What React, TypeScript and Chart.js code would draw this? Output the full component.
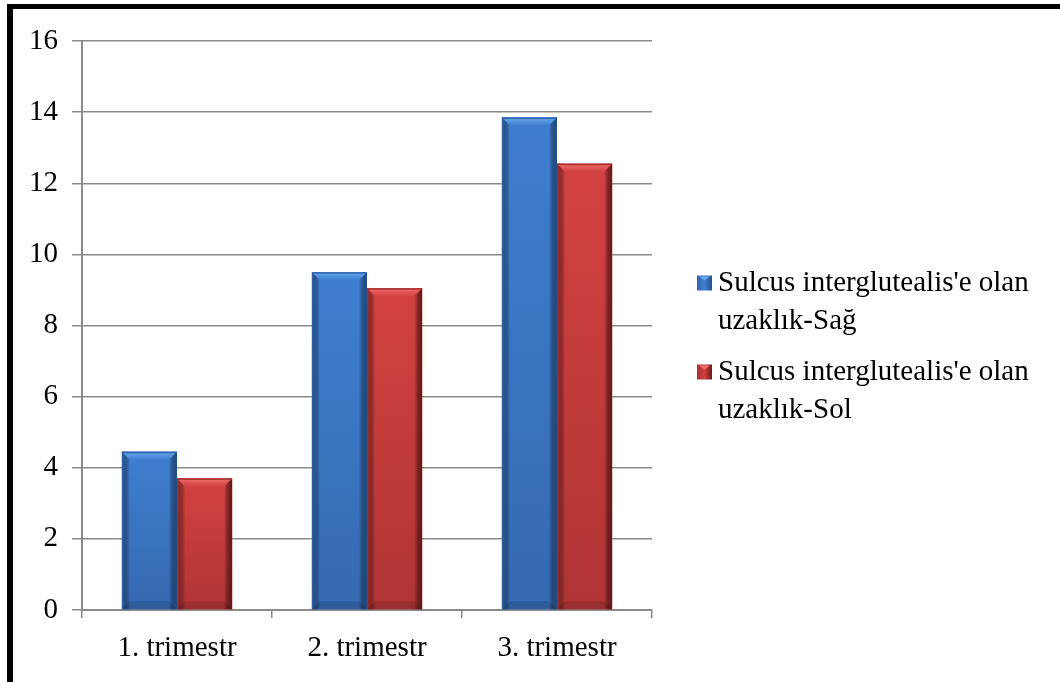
import React, { useEffect, useRef } from "react";
import { Chart, registerables } from "chart.js";

Chart.register(...registerables);

// Trimester categories and the two measured distances
const categories = ["1. trimestr", "2. trimestr", "3. trimestr"];
const rightSide = [4.45, 9.5, 13.85];
const leftSide = [3.7, 9.05, 12.55];

const seriesLabels = [
  "Sulcus interglutealis'e olan uzaklık-Sağ",
  "Sulcus interglutealis'e olan uzaklık-Sol",
];
const legendLines = [
  ["Sulcus interglutealis'e olan", "uzaklık-Sağ"],
  ["Sulcus interglutealis'e olan", "uzaklık-Sol"],
];

const yMin = 0;
const yMax = 16;
const yStep = 2;

const FONT = "'Liberation Serif', 'Times New Roman', serif";

type Palette = { base: string; light: string; dark: string; edge: string; bottom: string };
const palettes: Palette[] = [
  { base: "#3f7fd0", light: "#68a6ee", dark: "#2f64aa", edge: "#24508a", bottom: "#3569b0" },
  { base: "#d34242", light: "#f06c6c", dark: "#a83030", edge: "#6e1616", bottom: "#b03434" },
];

// Bevelled shading painted over each bar
const bevelPlugin = {
  id: "bevel",
  afterDatasetDraw(chart: any, args: any) {
    const ctx = chart.ctx;
    const pal = palettes[args.index];
    const meta = args.meta;
    meta.data.forEach((bar: any) => {
      const { x, y, base, width } = bar.getProps(["x", "y", "base", "width"], true);
      const l = x - width / 2;
      const r = x + width / 2;
      const t = Math.min(y, base);
      const b = Math.max(y, base);
      const bv = 8;
      ctx.save();
      // vertical body gradient
      const g = ctx.createLinearGradient(0, t, 0, b);
      g.addColorStop(0, pal.base);
      g.addColorStop(1, pal.bottom);
      ctx.fillStyle = g;
      ctx.fillRect(l, t, width, b - t);
      // left & right edges
      const gl = ctx.createLinearGradient(l, 0, l + bv, 0);
      gl.addColorStop(0, pal.dark);
      gl.addColorStop(1, "rgba(0,0,0,0)");
      ctx.fillStyle = gl;
      ctx.fillRect(l, t, bv, b - t);
      const gr = ctx.createLinearGradient(r - bv, 0, r, 0);
      gr.addColorStop(0, "rgba(0,0,0,0)");
      gr.addColorStop(1, pal.edge);
      ctx.fillStyle = gr;
      ctx.fillRect(r - bv, t, bv, b - t);
      // top bevel
      ctx.beginPath();
      ctx.moveTo(l, t);
      ctx.lineTo(r, t);
      ctx.lineTo(r - bv, t + bv);
      ctx.lineTo(l + bv, t + bv);
      ctx.closePath();
      const gt = ctx.createLinearGradient(0, t, 0, t + bv);
      gt.addColorStop(0, pal.light);
      gt.addColorStop(1, pal.base);
      ctx.fillStyle = gt;
      ctx.fill();
      ctx.fillStyle = pal.dark;
      ctx.fillRect(l, t, width, 1.5);
      // bottom bevel
      ctx.beginPath();
      ctx.moveTo(l, b);
      ctx.lineTo(r, b);
      ctx.lineTo(r - bv, b - bv);
      ctx.lineTo(l + bv, b - bv);
      ctx.closePath();
      ctx.fillStyle = "rgba(0,0,0,0.12)";
      ctx.fill();
      ctx.restore();
    });
  },
};

// Two-line legend on the right
const sideLegendPlugin = {
  id: "sideLegend",
  afterDraw(chart: any) {
    const ctx = chart.ctx;
    const startX = 697;
    const textX = 718;
    const firstY = 283;
    const lineGap = 38;
    const itemGap = 89;
    ctx.save();
    legendLines.forEach((lines, i) => {
      const cy = firstY + i * itemGap;
      const pal = palettes[i];
      const s = 15;
      const g = ctx.createLinearGradient(startX, 0, startX + s, 0);
      g.addColorStop(0, pal.dark);
      g.addColorStop(0.5, pal.base);
      g.addColorStop(1, pal.edge);
      ctx.fillStyle = g;
      ctx.fillRect(startX, cy - s / 2, s, s);
      ctx.fillStyle = pal.light;
      ctx.beginPath();
      ctx.moveTo(startX + 2, cy - s / 2 + 1);
      ctx.lineTo(startX + s - 2, cy - s / 2 + 1);
      ctx.lineTo(startX + s / 2, cy - s / 2 + 5);
      ctx.closePath();
      ctx.fill();
      ctx.fillStyle = "#000";
      ctx.font = `29px ${FONT}`;
      ctx.textBaseline = "middle";
      ctx.textAlign = "left";
      lines.forEach((ln, j) => ctx.fillText(ln, textX, cy + j * lineGap));
    });
    ctx.restore();
  },
};

export default function App() {
  const ref = useRef<HTMLCanvasElement | null>(null);

  useEffect(() => {
    if (!ref.current) return;
    const chart = new Chart(ref.current, {
      type: "bar",
      data: {
        labels: categories,
        datasets: [
          { label: seriesLabels[0], data: rightSide, backgroundColor: palettes[0].base, borderWidth: 0 },
          { label: seriesLabels[1], data: leftSide, backgroundColor: palettes[1].base, borderWidth: 0 },
        ],
      },
      options: {
        animation: false,
        responsive: false,
        maintainAspectRatio: false,
        datasets: { bar: { barPercentage: 1, categoryPercentage: 0.58 } },
        layout: { padding: { top: 41, right: 408, left: 0, bottom: 0 } },
        plugins: { legend: { display: false }, tooltip: { enabled: false } },
        scales: {
          x: {
            afterFit: (s: any) => {
              s.height = 72;
            },
            grid: {
              offset: true,
              drawOnChartArea: false,
              drawTicks: true,
              tickLength: 8,
              color: "#8a8a8a",
              lineWidth: 1.5,
            },
            border: { color: "#8a8a8a", width: 2 },
            ticks: { color: "#000", font: { family: FONT, size: 29 }, padding: 13 },
          },
          y: {
            min: yMin,
            max: yMax,
            afterFit: (s: any) => {
              s.width = 82;
            },
            grid: { color: "#8a8a8a", lineWidth: 1.5, tickLength: 10 },
            border: { color: "#8a8a8a", width: 2 },
            ticks: {
              stepSize: yStep,
              color: "#000",
              font: { family: FONT, size: 29 },
              padding: 14,
            },
          },
        },
      },
      plugins: [bevelPlugin, sideLegendPlugin],
    });
    return () => chart.destroy();
  }, []);

  return (
    <div
      style={{
        position: "fixed",
        left: 0,
        top: 0,
        width: 1060,
        height: 682,
        background: "#fff",
        overflow: "hidden",
      }}
    >
      <canvas ref={ref} width={1060} height={682} style={{ position: "absolute", left: 0, top: 0 }} />
      <div
        style={{
          position: "absolute",
          left: 7,
          top: 4,
          right: 0,
          bottom: 0,
          borderTop: "5px solid #000",
          borderLeft: "6px solid #000",
          pointerEvents: "none",
        }}
      />
    </div>
  );
}
